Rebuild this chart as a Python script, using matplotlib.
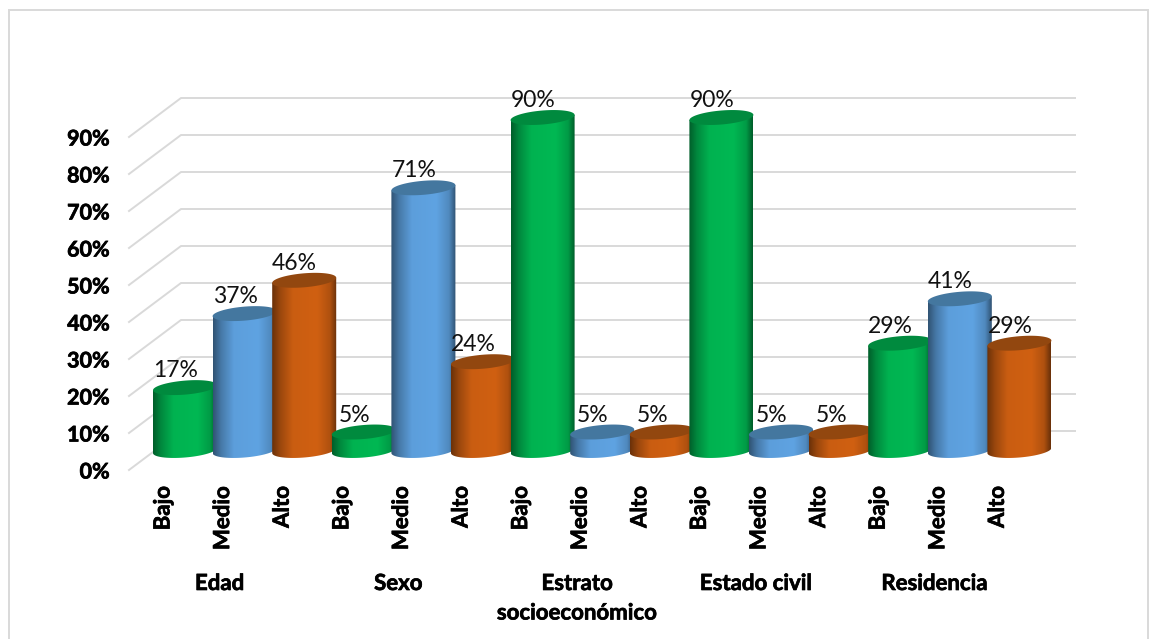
import numpy as np
import matplotlib
matplotlib.use('Agg')
import matplotlib.pyplot as plt
import matplotlib.patheffects as pe
from matplotlib.colors import to_rgb
from matplotlib.patches import PathPatch, Rectangle
from matplotlib.path import Path

plt.rcParams['font.family'] = ['Lato', 'DejaVu Sans']

# values, one per bar
levels = ['Bajo', 'Medio', 'Alto']
groups = ['Edad', 'Sexo', 'Estrato\nsocioeconómico', 'Estado civil', 'Residencia']
edad = [17, 37, 46]
sexo = [5, 71, 24]
estrato = [90, 5, 5]
estado_civil = [90, 5, 5]
residencia = [29, 41, 29]
yticks = [0, 10, 20, 30, 40, 50, 60, 70, 80, 90]

colors = {'Bajo': '#00b853', 'Medio': '#5fa3e2', 'Alto': '#d06012'}
top_colors = {'Bajo': '#008a3e', 'Medio': '#44779f', 'Alto': '#92470f'}
grid_color = '#d9d9d9'

W, H = 1151, 639
PX_X = 59.6   # pixels per bar
PX_Y = 3.7    # pixels per percent
X_FIRST = 185  # pixel centre of the first bar
Y_ZERO = 470   # pixel row of 0% on the front edge

values = edad + sexo + estrato + estado_civil + residencia
labels = levels * 5

# lato bold is a bit thin next to the original font
heavier = [pe.withStroke(linewidth=0.5, foreground='black')]

fig = plt.figure(figsize=(W / 100, H / 100), dpi=100)
ax = fig.add_axes([129 / W, (H - Y_ZERO) / H, (1075 - 129) / W, 370 / H])
ax.set_xlim((129 - X_FIRST) / PX_X, (1075 - X_FIRST) / PX_X)
ax.set_ylim(0, 100)
for s in ax.spines.values():
    s.set_visible(False)

# chart frame
fig.add_artist(Rectangle((8.5 / W, -0.01), (1148 - 8.5) / W, (H - 10) / H + 0.01,
                         fill=False, ec='#d9d9d9', lw=1.4, transform=fig.transFigure))

# floor and wall gridlines of the fake 3d box
x0, x1 = ax.get_xlim()
depth_x = 52 / PX_X
depth_y = 39 / PX_Y
for v in yticks:
    ax.plot([x0, x0 + depth_x, x1], [v, v + depth_y, v + depth_y],
            color=grid_color, lw=1.4, zorder=1, clip_on=False)

base = 19.5 / PX_Y   # bars stand in the middle of the floor
a = 32 / PX_X        # bars overlap a little
tilt = 0.7
bb = 7 / PX_Y
t = np.linspace(0, 2 * np.pi, 80)

gradient_stops = [0, 0.12, 0.32, 0.7, 0.9, 1]
gradient_vals = [0.52, 0.74, 0.97, 1.0, 0.84, 0.52]

for i, (v, lab) in enumerate(zip(values, labels)):
    top = base + v
    # side of the cylinder as a closed outline
    tb = np.linspace(np.pi, 2 * np.pi, 40)
    xs = np.r_[a * np.cos(tb), a * np.cos(tb[::-1])]
    ys = np.r_[base + bb * np.sin(tb) + tilt * np.cos(tb),
               top + tilt * np.cos(tb[::-1])]
    side = PathPatch(Path(np.c_[i + xs, ys]), fc='none', ec='none', zorder=3 + i * 0.01)
    ax.add_patch(side)
    shade = np.interp(np.linspace(0, 1, 60), gradient_stops, gradient_vals)
    img = np.outer(shade, to_rgb(colors[lab]))[None, :, :]
    im = ax.imshow(img, extent=[i - a, i + a, base - bb - 1, top + 1], aspect='auto',
                   zorder=3 + i * 0.01, interpolation='bilinear', clip_on=True)
    im.set_clip_path(side)
    # lid
    ax.fill(i + a * np.cos(t), top + bb * np.sin(t) + tilt * np.cos(t),
            color=top_colors[lab], lw=0, zorder=3 + i * 0.01 + 0.001, clip_on=False)
    ax.annotate(f'{v}%', (i, top), xytext=(-9.5 * 0.72, 17 * 0.72), textcoords='offset points',
                ha='center', va='center', fontsize=16.5, color='#111111', zorder=10)

ax.set_xlim(x0, x1)
ax.set_ylim(0, 100)

ax.set_yticks(yticks)
ax.set_yticklabels([f'{v}%' for v in yticks], fontsize=15.5, fontweight='bold', color='black',
                   path_effects=heavier)
ax.tick_params(axis='y', length=0, pad=14)

ax.set_xticks(np.arange(15) - 22 / PX_X)
ax.set_xticklabels(labels, rotation=90, fontsize=16, fontweight='bold', va='top', ha='center',
                   path_effects=heavier)
ax.tick_params(axis='x', length=0, pad=11.5)

# group captions under each triple of bars
for j, g in enumerate(groups):
    ax.annotate(g, (3 * j + 1 - 25 / PX_X, 0), xytext=(0, -(573 - Y_ZERO) * 0.72),
                textcoords='offset points', xycoords='data', ha='center', va='top',
                fontsize=16, fontweight='bold', linespacing=1.5, annotation_clip=False,
                path_effects=heavier)

fig.savefig('out.png', dpi=100)
